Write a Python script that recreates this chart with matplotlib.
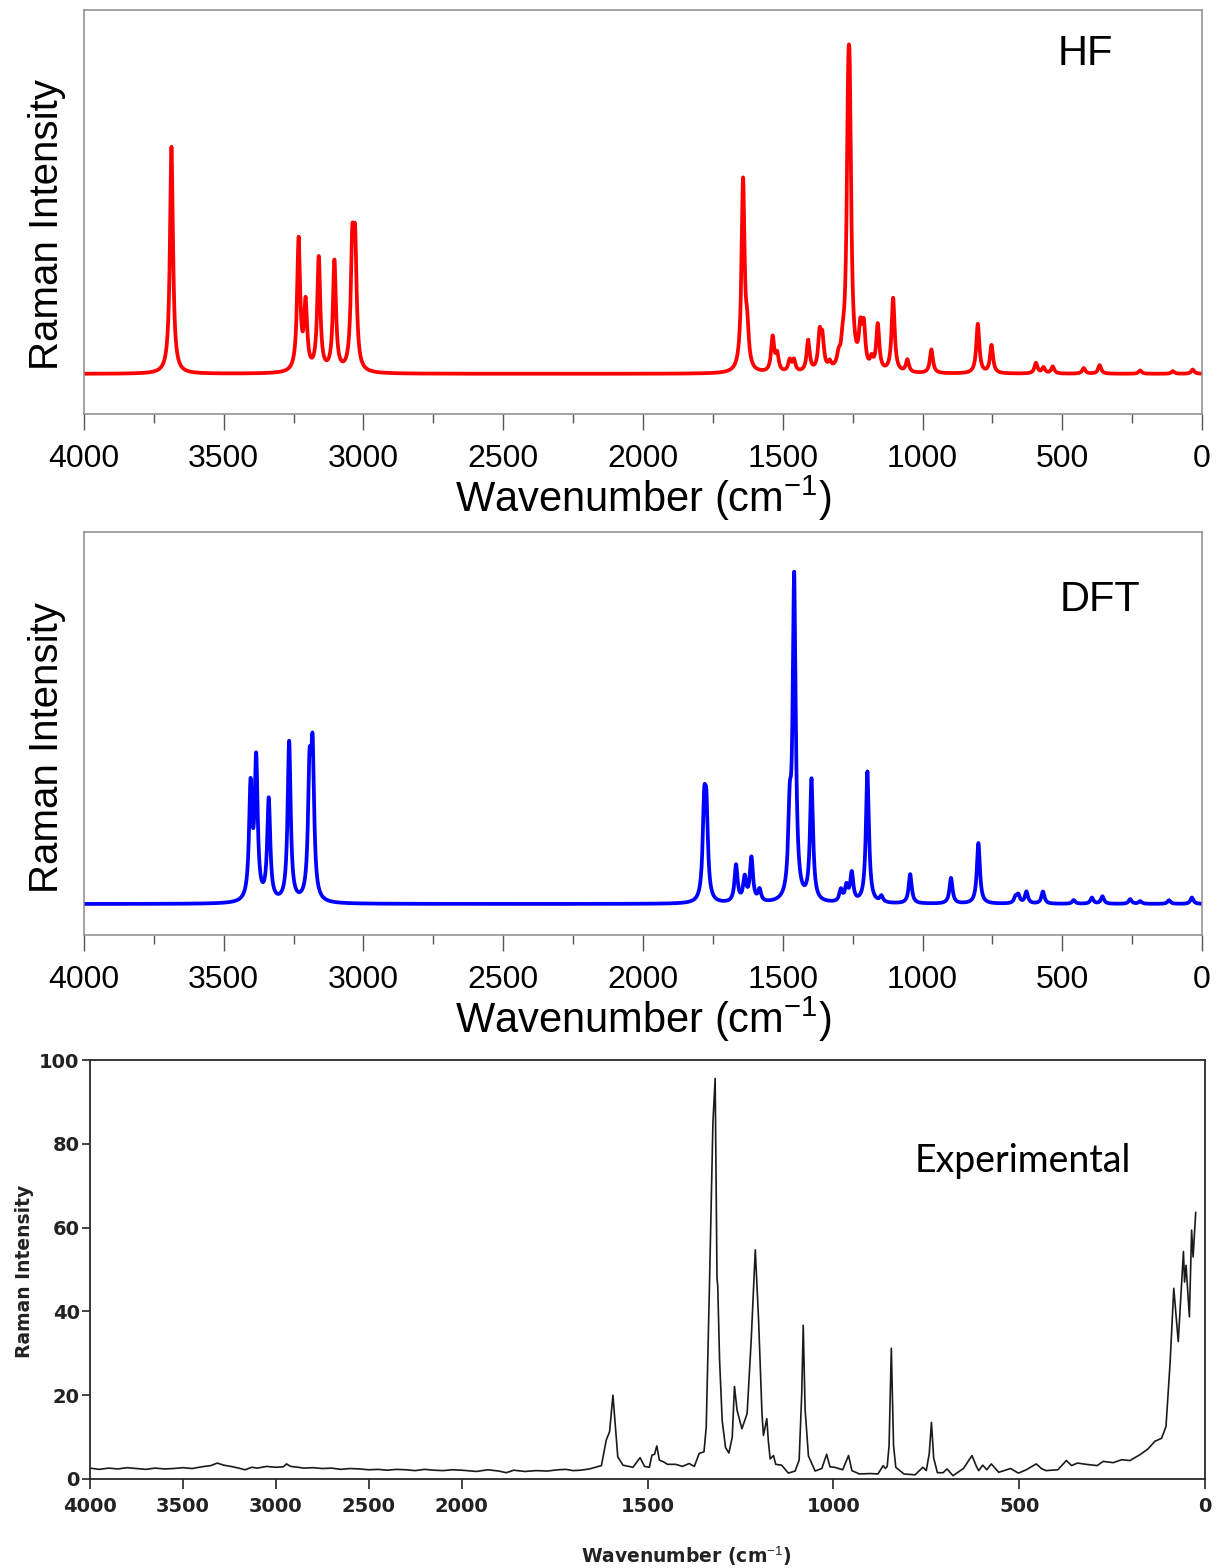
import numpy as np
import matplotlib
matplotlib.use("Agg")
import matplotlib.pyplot as plt

plt.rcParams['mathtext.fontset'] = 'custom'
plt.rcParams['mathtext.rm'] = 'Liberation Sans'
plt.rcParams['mathtext.it'] = 'Liberation Sans'

# --- HF calculated Raman bands (cm-1, relative intensity) ---
hf_freq = [3687, 3232, 3207, 3160, 3104, 3040, 3030,
           1642, 1627, 1536, 1520, 1475, 1460, 1409, 1368, 1358, 1332,
           1300, 1285, 1266, 1260, 1222, 1210, 1182, 1160, 1105, 1054,
           968, 802, 753, 594, 567, 534, 423, 366, 221, 104, 33]
hf_int = [69, 40, 20, 34.5, 33.5, 34.5, 34.5,
          58, 10, 10.5, 5, 3.5, 3.5, 9.5, 10.5, 9, 2,
          3, 5, 60, 60, 11, 12, 3, 14, 22.5, 3.8,
          7.2, 15, 8.5, 3.2, 1.8, 2.1, 1.7, 2.6, 1.0, 0.8, 1.3]

# --- DFT calculated Raman bands ---
dft_freq = [3404, 3384, 3339, 3266, 3193, 3182,
            1781, 1773, 1667, 1636, 1612, 1583, 1475, 1459, 1397,
            1292, 1272, 1253, 1197, 1147, 1044, 898, 800,
            667, 657, 628, 569, 459, 394, 356, 257, 221, 118, 36]
dft_int = [33, 41, 30, 47.5, 35, 41,
           25, 23.5, 11, 7, 13, 3.5, 22, 95, 36,
           3.5, 4.5, 8.5, 39, 1.8, 8.7, 7.6, 18,
           1.8, 2.3, 3.5, 3.6, 1.1, 1.8, 2.2, 1.4, 0.8, 1.1, 1.9]

band_fwhm = 13.0  # Lorentzian width used for the calculated spectra

# --- Experimental trace ---
exp_wavenumber = [4000, 3950, 3900, 3850, 3800, 3750, 3700, 3650, 3600, 3550,
                  3500, 3450, 3400, 3350, 3315, 3280, 3230, 3200, 3166, 3130,
                  3100, 3050, 3000, 2960, 2943, 2920, 2880, 2850, 2800, 2750,
                  2700, 2650, 2600, 2550, 2500, 2450, 2400, 2350, 2300, 2250,
                  2200, 2150, 2100, 2050, 2000, 1960, 1930, 1900, 1880, 1860,
                  1830, 1800, 1770, 1740, 1720, 1700, 1680, 1656,
                  1624, 1611, 1602, 1593, 1586, 1580, 1566, 1539, 1520, 1508,
                  1495, 1488, 1481, 1475, 1468, 1457, 1446, 1424, 1406, 1388,
                  1374, 1361, 1348, 1342, 1333, 1324, 1318, 1315, 1313, 1311,
                  1306, 1299, 1290, 1281, 1272, 1266, 1259, 1246, 1232, 1221,
                  1210, 1201, 1192, 1188, 1179, 1175, 1170, 1161, 1155, 1139,
                  1121, 1103, 1092, 1085, 1081, 1076, 1067, 1049, 1031, 1018,
                  1009, 997, 975, 959, 950, 930, 900, 880, 866, 860,
                  855, 850, 844, 838, 832, 810, 780, 759, 750, 742,
                  736, 730, 720, 705, 694, 678, 650, 627, 615, 609,
                  598, 587, 575, 555, 523, 502, 481, 454, 440, 428,
                  396, 373, 359, 343, 320, 290, 274, 247, 224, 202,
                  175, 153, 135, 117, 105, 94, 84, 72, 58, 55,
                  51, 42, 36, 32, 25]
exp_intensity = [2.6, 2.3, 2.6, 2.4, 2.7, 2.5, 2.3, 2.6, 2.4, 2.5,
                 2.7, 2.5, 2.9, 3.2, 3.8, 3.3, 2.9, 2.6, 2.2, 2.8,
                 2.6, 3.0, 2.8, 2.9, 3.6, 3.0, 2.8, 2.6, 2.7, 2.5,
                 2.6, 2.3, 2.5, 2.4, 2.2, 2.3, 2.1, 2.3, 2.2, 2.0,
                 2.3, 2.1, 2.0, 2.2, 2.1, 1.8, 2.2, 1.9, 1.5, 2.1,
                 1.8, 2.0, 1.9, 2.2, 2.3, 2.0, 2.1, 2.4,
                 3.2, 9.3, 11.3, 20.0, 12.0, 5.3, 3.3, 2.8, 5.1, 3.0,
                 2.8, 5.7, 5.9, 7.9, 4.5, 4.1, 3.5, 3.5, 3.0, 3.7,
                 3.0, 6.1, 6.5, 12.4, 47.3, 85.0, 95.6, 68.0, 48.0, 46.0,
                 28.2, 13.9, 7.5, 6.2, 10.0, 22.1, 16.4, 12.0, 15.6, 33.1,
                 54.7, 37.7, 15.6, 10.4, 14.4, 9.2, 4.8, 5.6, 3.5, 3.3,
                 1.4, 1.9, 4.5, 20.4, 36.7, 16.7, 5.5, 1.9, 2.5, 5.9,
                 2.9, 2.8, 2.2, 5.6, 2.0, 1.2, 1.3, 1.2, 3.2, 2.5,
                 3.0, 8.0, 31.2, 8.0, 2.8, 1.2, 1.0, 2.8, 2.0, 6.0,
                 13.5, 5.0, 1.5, 1.5, 2.4, 0.8, 2.5, 5.6, 3.0, 2.0,
                 3.3, 2.2, 3.6, 1.6, 2.5, 1.4, 2.2, 3.6, 2.5, 2.0,
                 2.2, 4.4, 3.2, 3.8, 3.5, 3.2, 4.2, 3.9, 4.6, 4.4,
                 5.8, 7.2, 9.0, 9.7, 12.5, 27.6, 45.5, 32.8, 54.3, 47.0,
                 51.0, 38.7, 59.4, 53.0, 63.6]

major_ticks = [4000, 3500, 3000, 2500, 2000, 1500, 1000, 500, 0]

FIG_W, FIG_H = 1219, 1568


def px_rect(left, top, right, bottom):
    # axes rectangle from pixel edges of the picture
    return [left / FIG_W, 1 - bottom / FIG_H, (right - left) / FIG_W, (bottom - top) / FIG_H]


def broaden(freqs, ints, fwhm, grid):
    spec = np.zeros_like(grid)
    for f, a in zip(freqs, ints):
        spec += a / (1.0 + ((grid - f) / (fwhm / 2.0)) ** 2)
    return spec


def calc_panel(ax, freqs, ints, color, name, ylim, name_xy, ylabel_y):
    grid = np.arange(0, 4000.25, 0.25)
    ax.plot(grid, broaden(freqs, ints, band_fwhm, grid), color=color, lw=2.7,
            solid_joinstyle='round')
    ax.set_xlim(4000, 0)
    ax.set_ylim(*ylim)
    ax.set_xticks(major_ticks)
    ax.set_xticks(np.arange(250, 4000, 500), minor=True)
    ax.set_yticks([])
    ax.tick_params(axis='x', which='major', length=11.5, width=1.0, color='#555555',
                   labelsize=23, pad=10)
    ax.tick_params(axis='x', which='minor', length=6.5, width=1.0, color='#555555')
    for s in ax.spines.values():
        s.set_color('#8a8a8a')
        s.set_linewidth(1.1)
    ax.set_xlabel('Wavenumber (cm$^{-1}$)', fontsize=30, labelpad=0)
    ax.set_ylabel('Raman Intensity', fontsize=29)
    ax.yaxis.set_label_coords(-0.016, ylabel_y)
    ax.text(name_xy[0], name_xy[1], name, transform=ax.transAxes, fontsize=30,
            ha='left', va='baseline')


plt.rcParams['font.family'] = ['Liberation Sans', 'DejaVu Sans']
fig = plt.figure(figsize=(FIG_W / 100, FIG_H / 100), dpi=100)

ax_hf = fig.add_axes(px_rect(84, 10, 1202, 414))
calc_panel(ax_hf, hf_freq, hf_int, '#ff0000', 'HF', (-12.2, 110.6), (0.871, 0.864), 0.468)

ax_dft = fig.add_axes(px_rect(84, 532, 1202, 935))
calc_panel(ax_dft, dft_freq, dft_int, '#0000ff', 'DFT', (-9.2, 110.4), (0.873, 0.804), 0.464)


# experimental chart paper: 4000-2000 is compressed by a factor of two
def fwd(x):
    x = np.asarray(x, dtype=float)
    return np.where(x <= 2000, x, 2000 + (x - 2000) / 2.0)


def inv(u):
    u = np.asarray(u, dtype=float)
    return np.where(u <= 2000, u, 2000 + (u - 2000) * 2.0)


ax_exp = fig.add_axes(px_rect(90, 1060, 1205, 1479))
ax_exp.set_xscale('function', functions=(fwd, inv))
ax_exp.plot(exp_wavenumber, exp_intensity, color='#1a1a1a', lw=1.2)
ax_exp.set_xlim(4000, 0)
ax_exp.set_ylim(0, 100)
ax_exp.set_xticks(major_ticks)
ax_exp.set_xticklabels([str(t) for t in major_ticks])
ax_exp.xaxis.set_minor_locator(matplotlib.ticker.NullLocator())
ax_exp.set_yticks([0, 20, 40, 60, 80, 100])
ax_exp.tick_params(axis='x', length=7, width=1.2, color='#222222', pad=6,
                   labelsize=14)
ax_exp.tick_params(axis='y', length=6, width=1.2, color='#222222', pad=1.5,
                   labelsize=14)
for lab in ax_exp.get_xticklabels() + ax_exp.get_yticklabels():
    lab.set_family('DejaVu Sans')
    lab.set_weight('bold')
    lab.set_color('#222222')
for s in ax_exp.spines.values():
    s.set_color('#2a2a2a')
    s.set_linewidth(1.3)
ax_exp.set_ylabel('Raman Intensity', fontsize=13.5, family='DejaVu Sans',
                  weight='bold', color='#222222')
ax_exp.yaxis.set_label_coords(-0.05, 0.496)
fig.text(686 / FIG_W, 1 - 1556 / FIG_H, 'Wavenumber (cm$^{-1}$)', fontsize=13.5,
         family='DejaVu Sans', weight='bold', ha='center', va='center', color='#222222')
ax_exp.text(0.74, 73.3, 'Experimental', transform=ax_exp.get_yaxis_transform(),
            fontsize=27, family='Lato', ha='left', va='baseline')

fig.savefig('out.png', dpi=100)
